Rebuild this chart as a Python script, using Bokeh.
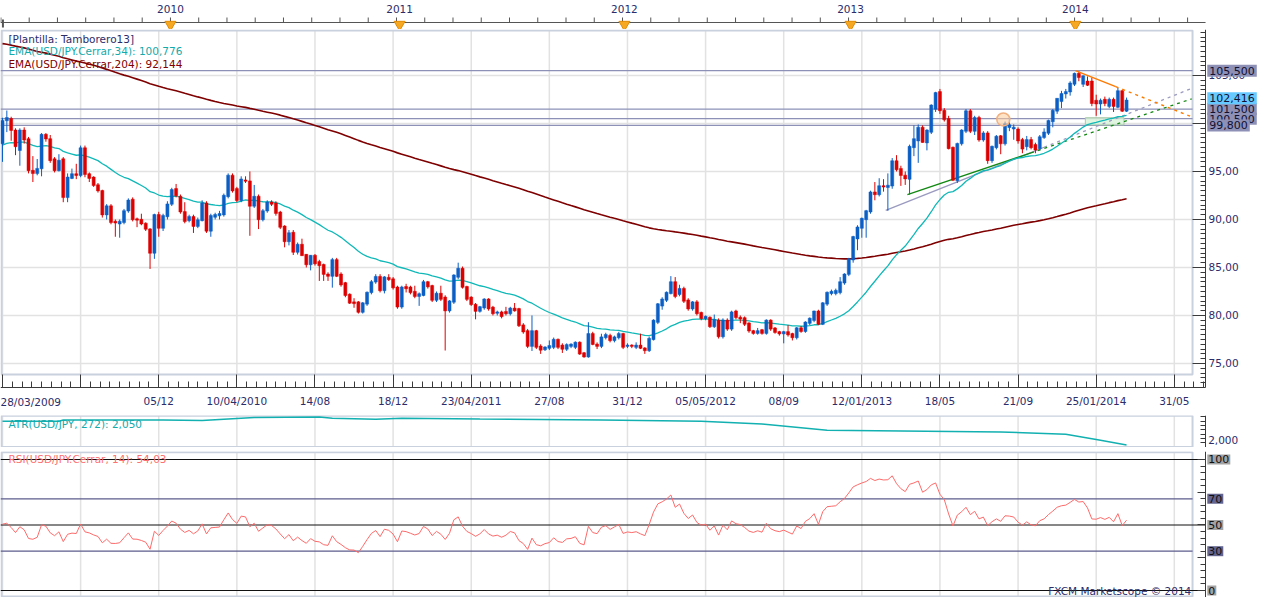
import numpy as np
from bokeh.plotting import figure
from bokeh.models import Range1d, FixedTicker, Label
from bokeh.layouts import column
from bokeh.core.properties import value
from bokeh.embed import file_html
from bokeh.resources import INLINE

# ---------------- data (weekly USD/JPY, bar 0 = week of 28/03/2009) ----------------
opens = [97.9,100.3,100.5,99.3,97.2,99.3,98.4,95.1,94.8,95.3,98.85,98.4,96.3,95.1,96.3,92.3,94.3,94.75,94.6,97.45,
94.75,94.4,93.6,93.0,90.5,91.4,89.8,89.55,89.7,90.9,92.1,90.05,90.0,89.6,89.0,86.5,90.5,89.1,90.3,91.6,
93.2,92.4,90.8,89.9,90.3,89.3,89.9,91.7,88.8,90.25,90.4,90.5,92.4,94.6,93.2,92.0,94.1,94.0,91.4,92.4,
90.0,90.9,91.8,91.7,90.75,89.3,87.7,88.65,86.6,87.4,86.35,85.3,86.25,85.6,85.3,84.3,84.1,85.8,84.3,83.4,
82.2,81.4,81.4,80.35,81.2,82.4,83.5,84.05,82.6,83.95,83.8,82.95,80.9,83.0,82.95,82.5,82.0,82.1,83.5,83.1,
81.6,82.3,81.9,80.5,81.4,84.0,84.9,83.0,81.9,81.15,80.45,80.8,81.7,80.85,80.25,80.35,80.4,80.2,80.75,80.7,
79.0,78.4,76.8,78.4,76.8,76.45,76.6,76.7,77.5,76.9,76.5,76.8,76.7,77.2,76.1,75.7,78.1,77.0,76.8,77.7,
77.9,77.4,77.7,78.1,76.8,76.9,76.7,76.9,76.6,76.35,77.5,79.3,81.0,81.6,82.3,83.5,82.2,82.8,81.6,80.7,
81.4,80.3,79.7,79.8,78.85,79.5,77.8,79.5,78.6,80.45,79.8,79.75,79.2,78.4,78.15,78.5,78.15,79.5,78.68,78.3,
78.1,78.3,78.1,77.7,78.7,78.35,79.2,79.5,80.45,79.1,81.2,82.3,82.3,82.4,83.4,84.3,85.8,88.0,89.1,90.0,
90.8,92.85,92.6,93.5,93.35,93.5,96.1,95.3,94.6,94.2,97.5,98.2,99.6,98.0,99.1,101.5,103.3,101.35,100.5,97.5,
94.06,97.9,99.2,101.3,99.2,100.6,98.3,99.0,96.15,97.5,98.7,97.9,99.6,99.45,99.4,98.3,97.6,98.3,97.8,97.4,
98.55,99.0,100.2,101.3,102.3,103.1,103.3,104.1,105.2,104.1,104.4,104.4,102.4,102.05,102.5,101.8,102.5,101.7,103.4,101.3]
highs = [100.6,101.35,100.7,99.5,99.5,99.6,98.6,96.6,96.3,99.0,99.0,98.8,96.5,96.8,96.5,94.8,95.3,95.8,97.7,97.7,
94.9,94.5,93.8,93.1,91.6,91.6,90.0,90.0,91.1,92.2,92.3,90.2,90.6,89.7,89.1,90.6,90.8,90.6,91.9,93.3,
93.7,92.6,91.8,90.5,90.5,90.2,92.0,91.9,90.6,90.7,90.9,92.7,94.8,94.8,93.4,94.5,94.5,95.0,93.6,92.6,
91.1,92.0,92.0,91.9,90.9,89.4,88.9,88.9,87.6,88.0,86.4,86.3,86.4,85.8,85.4,84.5,86.0,86.0,84.5,83.5,
82.3,81.8,81.5,81.4,82.5,83.7,84.3,84.3,84.1,84.3,84.0,83.1,83.1,83.3,83.1,83.1,82.4,83.7,83.6,83.2,
82.5,83.1,82.1,81.6,84.3,85.5,85.1,83.1,82.0,81.3,81.0,81.8,81.8,81.0,80.5,80.5,80.9,80.9,81.3,80.8,
79.2,78.6,80.0,78.5,77.0,76.8,77.4,77.7,77.6,77.1,77.1,77.1,77.3,77.3,76.2,79.3,78.3,77.2,78.1,78.2,
78.1,77.9,78.3,78.2,77.1,77.0,77.2,78.1,76.7,77.8,79.6,81.3,81.9,82.5,84.1,84.0,83.2,83.0,81.8,81.5,
81.6,80.4,80.0,79.9,80.1,79.7,79.7,79.7,80.5,80.6,80.0,79.9,79.3,78.5,78.7,78.6,79.6,79.6,78.8,78.4,
78.4,79.0,78.2,78.8,78.9,79.4,79.8,80.5,80.6,81.4,82.5,82.7,82.8,84.0,84.4,86.0,88.3,89.4,90.2,91.0,
93.0,93.9,94.3,94.2,94.8,96.4,96.7,95.6,95.0,97.8,99.8,99.9,99.8,99.4,102.0,103.3,103.6,101.6,100.8,97.6,
98.0,99.4,101.5,101.5,100.8,100.8,99.2,99.2,97.7,98.8,98.8,100.2,100.6,99.9,99.6,98.5,98.7,98.6,98.0,98.8,
99.5,100.4,101.5,102.6,103.4,103.6,104.4,105.3,105.45,105.0,104.9,104.8,103.0,102.6,102.8,102.7,102.7,103.7,103.5,102.7]
lows = [96.0,99.1,98.2,96.7,95.6,97.9,94.8,93.9,94.6,94.5,98.1,95.9,94.9,95.0,91.8,91.8,94.2,94.2,94.4,94.4,
93.9,93.4,92.8,90.2,90.0,89.5,88.2,88.1,89.5,90.7,89.8,89.2,89.4,88.8,84.85,85.9,88.2,88.8,90.0,91.4,
92.3,90.6,89.6,89.7,88.6,89.1,89.8,88.6,88.2,90.0,90.0,90.3,92.2,92.8,91.8,91.8,93.8,88.3,91.2,89.0,
89.8,90.7,91.4,90.4,89.0,87.1,87.3,86.3,86.35,86.2,85.0,84.7,85.2,83.6,83.6,83.6,82.9,84.0,83.0,81.9,
81.2,80.8,80.2,80.2,81.0,82.2,83.3,82.4,82.3,83.6,82.7,80.7,80.7,82.4,82.2,81.8,81.0,82.0,82.8,81.4,
81.4,81.5,76.35,80.3,81.2,83.8,82.8,81.5,81.0,79.6,80.3,80.6,80.5,80.0,80.0,79.7,80.0,80.0,80.4,78.8,
78.1,76.6,76.3,76.5,76.0,76.3,76.4,76.5,76.5,76.1,76.3,76.6,76.5,75.9,75.6,75.6,76.9,76.5,76.6,77.5,
77.2,77.2,77.5,76.5,76.6,76.6,76.5,76.5,76.0,76.2,77.4,79.1,80.6,81.4,82.2,81.8,82.0,81.3,80.5,80.5,
80.0,79.5,79.5,78.7,78.7,77.6,77.6,78.4,78.4,79.6,79.2,78.9,78.2,78.0,78.0,78.0,78.0,78.4,78.1,77.9,
77.1,77.8,77.4,77.5,78.2,78.2,79.0,79.3,79.0,79.0,81.0,82.1,82.1,82.2,83.2,84.1,85.5,86.8,88.1,88.1,
90.6,92.0,92.4,92.9,90.9,93.2,95.0,93.5,93.6,92.6,96.6,95.9,98.0,97.2,98.9,101.2,101.0,100.2,97.3,94.0,
93.8,97.7,99.0,99.0,98.8,98.1,98.1,95.8,95.9,97.3,96.8,97.7,99.2,98.3,97.9,96.9,97.2,97.3,96.9,97.2,
98.4,98.8,99.6,101.0,101.6,102.6,102.9,103.9,104.4,103.8,103.9,101.8,100.8,100.95,101.8,101.6,101.2,101.6,101.2,101.2]
closes = [100.3,100.6,99.3,97.6,99.3,98.3,95.1,94.8,95.3,98.85,98.4,96.15,95.1,96.15,92.3,94.4,94.75,94.6,97.45,94.7,
94.3,93.55,93.0,90.5,91.4,89.7,89.65,89.8,90.9,92.0,90.0,89.95,89.55,89.0,86.5,90.5,89.1,90.4,91.6,93.1,
92.5,90.8,89.8,90.3,89.3,89.95,91.7,88.8,90.4,90.5,90.6,92.5,94.6,93.0,92.0,94.2,94.0,91.4,92.4,90.0,
90.9,91.8,91.6,90.65,89.2,87.7,88.6,86.6,87.4,86.25,85.3,86.25,85.4,85.2,84.3,84.1,85.8,84.1,83.2,82.1,
81.3,81.25,80.35,81.3,82.4,83.5,84.05,82.6,84.0,83.75,82.9,80.9,82.95,82.8,82.4,82.0,82.25,83.5,83.0,81.6,
82.3,81.7,80.5,81.5,84.2,84.9,82.95,81.7,81.15,80.45,80.9,81.7,80.7,80.2,80.35,79.9,80.2,80.75,80.5,78.95,
78.3,76.8,78.4,76.7,76.4,76.7,76.85,77.5,76.7,76.5,76.95,77.0,77.2,76.0,75.7,78.1,77.0,76.8,77.75,78.0,
77.4,77.75,78.1,76.7,76.9,76.8,76.9,76.6,76.35,77.6,79.5,81.2,81.7,82.4,83.5,82.0,82.8,81.5,80.7,81.4,
80.2,79.7,79.9,78.85,79.55,77.8,79.5,78.6,80.35,79.8,79.65,79.1,78.4,78.15,78.4,78.15,79.5,78.6,78.25,78.1,
78.3,78.0,77.7,78.7,78.35,79.3,79.7,80.45,79.1,81.3,82.4,82.5,82.6,83.5,84.3,85.9,88.2,89.2,90.1,90.9,
92.85,92.6,93.5,93.4,93.55,96.1,95.2,94.6,94.25,97.6,98.4,99.6,98.05,99.3,101.9,103.2,101.35,100.4,97.4,94.1,
97.9,99.3,101.3,99.2,100.6,98.3,99.0,96.15,97.6,98.65,97.9,99.95,99.85,99.6,98.2,97.35,98.3,97.5,97.25,98.6,
99.1,100.3,101.35,102.6,103.1,103.3,104.2,105.2,104.8,104.95,104.0,102.1,102.05,102.4,102.1,102.5,101.8,103.4,101.3,102.42]

ema34_start = 97.6          # EMA(34) value at the first visible bar
ema204_start = 108.4        # EMA(204) value at the first visible bar
rsi_gain_start = 0.80       # Wilder averages carried in from earlier history
rsi_loss_start = 0.78

atr_bars = [0, 13, 14, 37, 46, 58, 73, 76, 86, 92, 110, 138, 161, 175, 190, 230, 245, 253, 259]
atr_vals = [2.60, 2.60, 2.63, 2.63, 2.62, 2.69, 2.70, 2.67, 2.645, 2.67, 2.65, 2.63, 2.60, 2.535, 2.39, 2.35, 2.30, 2.16, 2.05]

price_ticks = [75, 80, 85, 90, 95, 100, 105]
date_tick_bars = [0, 18, 36, 54, 72, 90, 108, 126, 144, 162, 180, 198, 216, 234, 252, 270]
date_tick_labels = ["", "", "05/12", "10/04/2010", "14/08", "18/12", "23/04/2011", "27/08", "31/12",
                    "05/05/2012", "08/09", "12/01/2013", "18/05", "21/09", "25/01/2014", "31/05"]
first_date_label = "28/03/2009"
year_bars = [38.7, 91.5, 143.3, 195.4, 247.2]
year_labels = ["2010", "2011", "2012", "2013", "2014"]

levels = [105.5, 101.5, 100.5, 99.8]          # drawn horizontal lines
level_labels = ["105,500", "101,500", "100,500", "99,800"]
last_label = "102,416"

# trend lines: bar0, price0, bar1, price1
trend_green = [208.5, 92.6, 274.0, 102.57]
trend_gray = [203.5, 90.94, 273.7, 103.6]
trend_orange = [247.2, 105.5, 273.7, 100.75]
green_solid_end = 237.0
gray_solid_end = 240.0
orange_solid_end = 256.5
circle_mark = [230.6, 100.42]
zone_box = [249.5, 258.4, 99.85, 100.6]

# ---------------- derived indicator series ----------------
def ema(seed, n):
    a = 2.0 / (n + 1)
    e = seed
    out = []
    for c in closes:
        e = e + a * (c - e)
        out.append(e)
    return out

ema34 = ema(ema34_start, 34)
ema204 = ema(ema204_start, 204)

rsi = []
ag, al = rsi_gain_start, rsi_loss_start
for i, c in enumerate(closes):
    if i > 0:
        ch = c - closes[i - 1]
        ag = (ag * 13 + max(ch, 0)) / 14
        al = (al * 13 + max(-ch, 0)) / 14
    rsi.append(100 - 100 / (1 + ag / al))

bars = list(range(len(closes)))

# ---------------- styling ----------------
FONT = "DejaVu Sans"
NAVY = "#2c2c6a"
BORDER = "#c9d1de"
GRID = "#e2e2e2"
BLUE = "#0b5fc4"
RED = "#dd0000"
W = 1263
XR = Range1d(-0.46, 290.55)
AXIS_X = 277.2      # where the right-hand value axes stand
X_PANEL_R = 274.2   # right edge of the panel boxes
X_PANEL_L = -0.23
LABEL_X = 277.6

def base_fig(h, yr, top=0, bottom=0):
    f = figure(width=W, height=h, x_range=XR, y_range=yr, output_backend="svg",
               toolbar_location=None, y_axis_location="right", x_axis_location=None,
               min_border_left=0, min_border_right=0, min_border_top=top, min_border_bottom=bottom)
    f.grid.visible = False
    f.outline_line_color = None
    f.background_fill_color = "white"
    f.border_fill_color = "white"
    return f

def style_axis(ax):
    ax.axis_line_color = "#3a3a3a"
    ax.major_tick_line_color = "#3a3a3a"
    ax.minor_tick_line_color = "#3a3a3a"
    ax.major_tick_out = 0
    ax.minor_tick_out = 0
    ax.major_label_text_font = FONT
    ax.major_label_text_font_size = "10.5px"
    ax.major_label_text_color = NAVY

# ---- top strip (years) ----
top = figure(width=W, height=29, x_range=XR, y_range=Range1d(29, 0), output_backend="svg",
             toolbar_location=None, x_axis_location=None, y_axis_location=None,
             min_border_left=0, min_border_right=0, min_border_top=0, min_border_bottom=0)
top.grid.visible = False
top.outline_line_color = None
strip_ticks = np.arange(year_bars[0] - 6.51 * 6, AXIS_X, 6.51)
top.segment(x0=XR.start, x1=AXIS_X, y0=22, y1=22, line_color="#555555", line_width=1)
top.segment(x0=strip_ticks, x1=strip_ticks, y0=[17] * len(strip_ticks), y1=[22] * len(strip_ticks),
            line_color="#555555", line_width=1)
top.segment(x0=[0.1], x1=[0.1], y0=[19], y1=[27], line_color="#555555", line_width=2)
top.scatter(x=year_bars, y=[24] * len(year_bars), marker="inverted_triangle", size=11,
            fill_color="#f7a823", line_color="#e08a00")
top.text(x=year_bars, y=[8] * len(year_bars), text=year_labels, text_align="center",
         text_baseline="middle", text_font=value(FONT), text_font_size="10.5px", text_color=NAVY)

# ---- main price panel (frame covers the axis area; axes are pinned inside) ----
p = figure(width=W, height=384, x_range=XR, y_range=Range1d(69.79, 109.79), output_backend="svg",
           toolbar_location=None, y_axis_location="right", x_axis_location="below",
           min_border_left=0, min_border_right=0, min_border_top=0, min_border_bottom=0)
p.grid.visible = False
p.outline_line_color = None
bot = 73.85
topv = 109.69
XAXIS_Y = 72.5
p.segment(x0=date_tick_bars, x1=date_tick_bars, y0=[bot] * 16, y1=[topv] * 16, line_color=GRID, line_width=1.5)
p.segment(x0=[XR.start] * len(price_ticks), x1=[X_PANEL_R] * len(price_ticks), y0=price_ticks, y1=price_ticks,
          line_color=GRID, line_width=1.5)
p.quad(left=[X_PANEL_L], right=[X_PANEL_R], bottom=[bot], top=[topv], fill_color=None,
       line_color=BORDER, line_width=2)
p.segment(x0=[XR.start] * len(levels), x1=[X_PANEL_R] * len(levels), y0=levels, y1=levels,
          line_color="#8d91b7", line_width=1.3)

p.rect(x=[(zone_box[0] + zone_box[1]) / 2], y=[(zone_box[2] + zone_box[3]) / 2],
       width=[zone_box[1] - zone_box[0]], height=[zone_box[3] - zone_box[2]],
       fill_color="#d9f4d9", fill_alpha=0.8, line_color="#a8c8a8")

def tline(tl, solid_end, color, lw=1.3):
    b0, p0, b1, p1 = tl
    slope = (p1 - p0) / (b1 - b0)
    pm = p0 + slope * (solid_end - b0)
    p.line([b0, solid_end], [p0, pm], line_color=color, line_width=lw)
    p.line([solid_end, b1], [pm, p1], line_color=color, line_width=lw, line_dash="3 4")

tline(trend_gray, gray_solid_end, "#9a9ac0")
tline(trend_green, green_solid_end, "#118811")

p.line(bars, ema204, line_color="#7f0000", line_width=1.6)
p.line(bars, ema34, line_color="#10b8b8", line_width=1.3)

col = [BLUE if c >= o else RED for o, c in zip(opens, closes)]
btop = [max(o, c) + 0.02 for o, c in zip(opens, closes)]
bbot = [min(o, c) - 0.02 for o, c in zip(opens, closes)]
p.segment(x0=bars, x1=bars, y0=lows, y1=highs, line_color=col, line_width=1)
p.vbar(x=bars, width=0.7, top=btop, bottom=bbot, fill_color=col, line_color=col, line_width=0.5)

tline(trend_orange, orange_solid_end, "#ff7a00", lw=1.4)
p.scatter(x=[circle_mark[0]], y=[circle_mark[1]], size=13, marker="circle",
          fill_color="#ffcc99", fill_alpha=0.55, line_color="#f0b080", line_width=1.5)

style_axis(p.yaxis[0])
p.yaxis.fixed_location = AXIS_X
p.yaxis.bounds = (XAXIS_Y, 109.79)
p.yaxis.ticker = FixedTicker(ticks=price_ticks, minor_ticks=list(np.arange(73.0, 110.0, 0.5)))
p.yaxis.major_label_overrides = {t: f"{t},00" for t in price_ticks}
p.yaxis.major_tick_in = 13
p.yaxis.minor_tick_in = 5
p.yaxis.major_label_standoff = 3
style_axis(p.xaxis[0])
p.xaxis.fixed_location = XAXIS_Y
p.xaxis.bounds = (XR.start, AXIS_X)
p.xaxis.ticker = FixedTicker(ticks=date_tick_bars, minor_ticks=list(np.arange(0, 277, 2.25)))
p.xaxis.major_label_overrides = dict(zip(date_tick_bars, date_tick_labels))
p.xaxis.major_tick_in = 13
p.xaxis.minor_tick_in = 6
p.xaxis.major_label_standoff = 8

p.add_layout(Label(x=XR.start, y=71.0, text=first_date_label,
                   text_font=FONT, text_font_size="10.5px", text_color=NAVY, text_baseline="middle"))

for txt, yv, c in [("[Plantilla: Tamborero13]", 108.85, NAVY),
                   ("EMA(USD/JPY.Cerrar,34): 100,776", 107.5, "#12aaaa"),
                   ("EMA(USD/JPY.Cerrar,204): 92,144", 106.15, "#800000")]:
    p.add_layout(Label(x=1.38, y=yv, text=txt, text_font=FONT, text_font_size="10.5px",
                       text_color=c, text_baseline="middle"))

for idx in [2, 1, 3, 0]:
    p.add_layout(Label(x=LABEL_X, y=levels[idx], text=level_labels[idx], text_font=FONT,
                       text_font_size="11px", text_color="#111133", text_baseline="middle",
                       background_fill_color="#8e90b6", padding=2))
p.add_layout(Label(x=LABEL_X, y=float(closes[-1]) + 0.2, text=last_label, text_font=FONT, text_font_size="11px",
                   text_color="#111133", text_baseline="middle", background_fill_color="#66c9ff",
                   padding=2))

# ---- ATR panel ----
a = base_fig(34, Range1d(1.99, 2.734), top=2, bottom=0)
a.segment(x0=date_tick_bars, x1=date_tick_bars, y0=[1.995] * 16, y1=[2.73] * 16, line_color=GRID, line_width=1.5)
a.quad(left=[X_PANEL_L], right=[X_PANEL_R], bottom=[2.0], top=[2.728], fill_color=None,
       line_color=BORDER, line_width=2)
a.line(atr_bars, atr_vals, line_color="#12b0b0", line_width=1.5)
style_axis(a.yaxis[0])
a.yaxis.fixed_location = AXIS_X
a.yaxis.ticker = FixedTicker(ticks=[2.0], minor_ticks=[2.1, 2.2, 2.3, 2.4, 2.5, 2.6, 2.7])
a.yaxis.major_label_text_color = None
a.yaxis.major_tick_in = 8
a.yaxis.minor_tick_in = 5
a.add_layout(Label(x=LABEL_X + 0.2, y=2.17, text="2,000", text_font=FONT, text_font_size="10.5px",
                   text_color=NAVY, text_baseline="middle"))
a.add_layout(Label(x=1.38, y=2.535, text="ATR(USD/JPY, 272): 2,050", text_font=FONT,
                   text_font_size="10.5px", text_color="#12aaaa", text_baseline="middle"))

# ---- RSI panel ----
r = base_fig(150, Range1d(-5.34, 106.1), top=4, bottom=0)
r.segment(x0=date_tick_bars, x1=date_tick_bars, y0=[-4.6] * 16, y1=[105.5] * 16, line_color=GRID, line_width=1.5)
r.quad(left=[X_PANEL_L], right=[X_PANEL_R], bottom=[-4.6], top=[105.6], fill_color=None,
       line_color=BORDER, line_width=2)
r.segment(x0=[XR.start] * 2, x1=[X_PANEL_R] * 2, y0=[70, 30], y1=[70, 30], line_color="#5c5c8e", line_width=1.2)
r.segment(x0=[XR.start] * 3, x1=[AXIS_X] * 3, y0=[100, 50, 0], y1=[100, 50, 0], line_color="#111111", line_width=1.2)
r.line(bars, rsi, line_color="#ff6a6a", line_width=1)
style_axis(r.yaxis[0])
r.yaxis.fixed_location = AXIS_X
r.yaxis.ticker = FixedTicker(ticks=[0, 25, 50, 75, 100], minor_ticks=list(range(0, 101, 5)))
r.yaxis.major_label_text_color = None
r.yaxis.major_tick_in = 8
r.yaxis.minor_tick_in = 5
for txt, yv, bg in [("100", 100, "#a3a3a3"), ("70", 70, "#64648f"), ("50", 50, "#a3a3a3"),
                    ("30", 30, "#64648f"), ("0", 0, "#a3a3a3")]:
    r.add_layout(Label(x=LABEL_X, y=yv, text=txt, text_font=FONT, text_font_size="11px",
                       text_color="#111111", text_baseline="middle", background_fill_color=bg, padding=1))
r.add_layout(Label(x=1.38, y=100, text="RSI(USD/JPY.Cerrar, 14): 54,03", text_font=FONT,
                   text_font_size="10.5px", text_color="#ff7070", text_baseline="middle"))
r.add_layout(Label(x=273.9, y=0, text="FXCM Marketscope \u00a9 2014", text_font=FONT,
                   text_font_size="10.5px", text_color=NAVY, text_baseline="middle", text_align="right"))

layout = column(top, p, a, r, spacing=0)
open("out.html", "w").write(file_html(layout, INLINE))
